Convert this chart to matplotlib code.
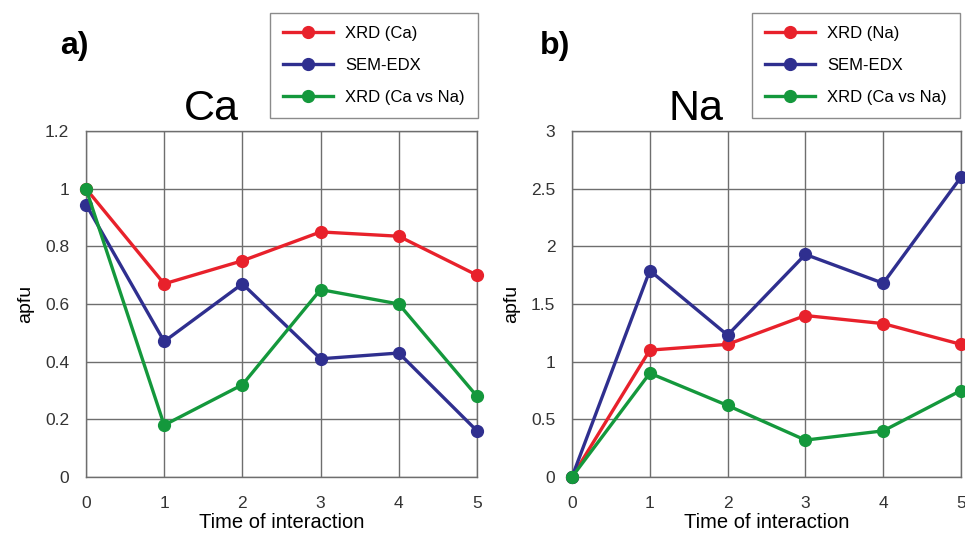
import matplotlib
matplotlib.use("Agg")
import matplotlib.pyplot as plt

plt.rcParams['font.family'] = ['Liberation Sans', 'DejaVu Sans']

time = [0, 1, 2, 3, 4, 5]

# panel a) Ca
ca_xrd = [1.0, 0.67, 0.75, 0.85, 0.835, 0.70]
ca_sem = [0.945, 0.47, 0.67, 0.41, 0.43, 0.16]
ca_xrd_cana = [1.0, 0.18, 0.32, 0.65, 0.60, 0.28]
ca_yticks = [0, 0.2, 0.4, 0.6, 0.8, 1, 1.2]
ca_yticklabels = ['0', '0.2', '0.4', '0.6', '0.8', '1', '1.2']

# panel b) Na
na_xrd = [0, 1.10, 1.15, 1.40, 1.33, 1.15]
na_sem = [0, 1.79, 1.23, 1.93, 1.68, 2.60]
na_xrd_cana = [0, 0.90, 0.62, 0.32, 0.40, 0.75]
na_yticks = [0, 0.5, 1, 1.5, 2, 2.5, 3]
na_yticklabels = ['0', '0.5', '1', '1.5', '2', '2.5', '3']

red = '#e8212b'
blue = '#2f2f8f'
green = '#14983c'
grid_col = '#6e6e6e'

W, H = 965, 537
fig = plt.figure(figsize=(W / 100, H / 100), dpi=100)


def px_rect(x0, y0, x1, y1):
    return [x0 / W, 1 - y1 / H, (x1 - x0) / W, (y1 - y0) / H]


def panel(rect, series, labels, yticks, yticklabels, title, tag, tag_pos, leg_pos):
    ax = fig.add_axes(rect)
    for vals, col, lab in zip(series, [red, blue, green], labels):
        ax.plot(time, vals, color=col, lw=2.4, marker='o', ms=8.5,
                label=lab, clip_on=False, zorder=3)
    ax.set_xlim(0, 5)
    ax.set_ylim(yticks[0], yticks[-1])
    ax.set_xticks(time)
    ax.set_yticks(yticks)
    ax.set_yticklabels(yticklabels)
    ax.tick_params(length=0, labelsize=12.5, colors='#333333')
    ax.tick_params(axis='y', pad=12)
    ax.tick_params(axis='x', pad=14)
    ax.grid(True, color=grid_col, lw=1)
    for s in ax.spines.values():
        s.set_color(grid_col)
        s.set_linewidth(1)
    ax.set_ylabel('apfu', fontsize=14, labelpad=8)
    ax.set_xlabel('Time of interaction', fontsize=14.5, labelpad=1)
    ax.set_title(title, fontsize=31, pad=8, x=0.32)
    fig.text(tag_pos[0] / W, 1 - tag_pos[1] / H, tag, fontsize=23,
             fontweight='bold', ha='left', va='center')
    leg = ax.legend(loc='upper left', bbox_to_anchor=(leg_pos[0] / W, 1 - leg_pos[1] / H),
                    bbox_transform=fig.transFigure, fancybox=False, frameon=True,
                    edgecolor=grid_col, fontsize=12, handlelength=3.0,
                    labelspacing=1.0, borderpad=0.8, borderaxespad=0,
                    handletextpad=0.7)
    leg.get_frame().set_linewidth(1)
    return ax


panel(px_rect(86, 131, 477, 477), [ca_xrd, ca_sem, ca_xrd_cana],
      ['XRD (Ca)', 'SEM-EDX', 'XRD (Ca vs Na)'],
      ca_yticks, ca_yticklabels, 'Ca', 'a)', (60, 46), (270, 13))
panel(px_rect(572, 131, 961, 477), [na_xrd, na_sem, na_xrd_cana],
      ['XRD (Na)', 'SEM-EDX', 'XRD (Ca vs Na)'],
      na_yticks, na_yticklabels, 'Na', 'b)', (540, 46), (752, 13))

fig.savefig('out.png', dpi=100)
